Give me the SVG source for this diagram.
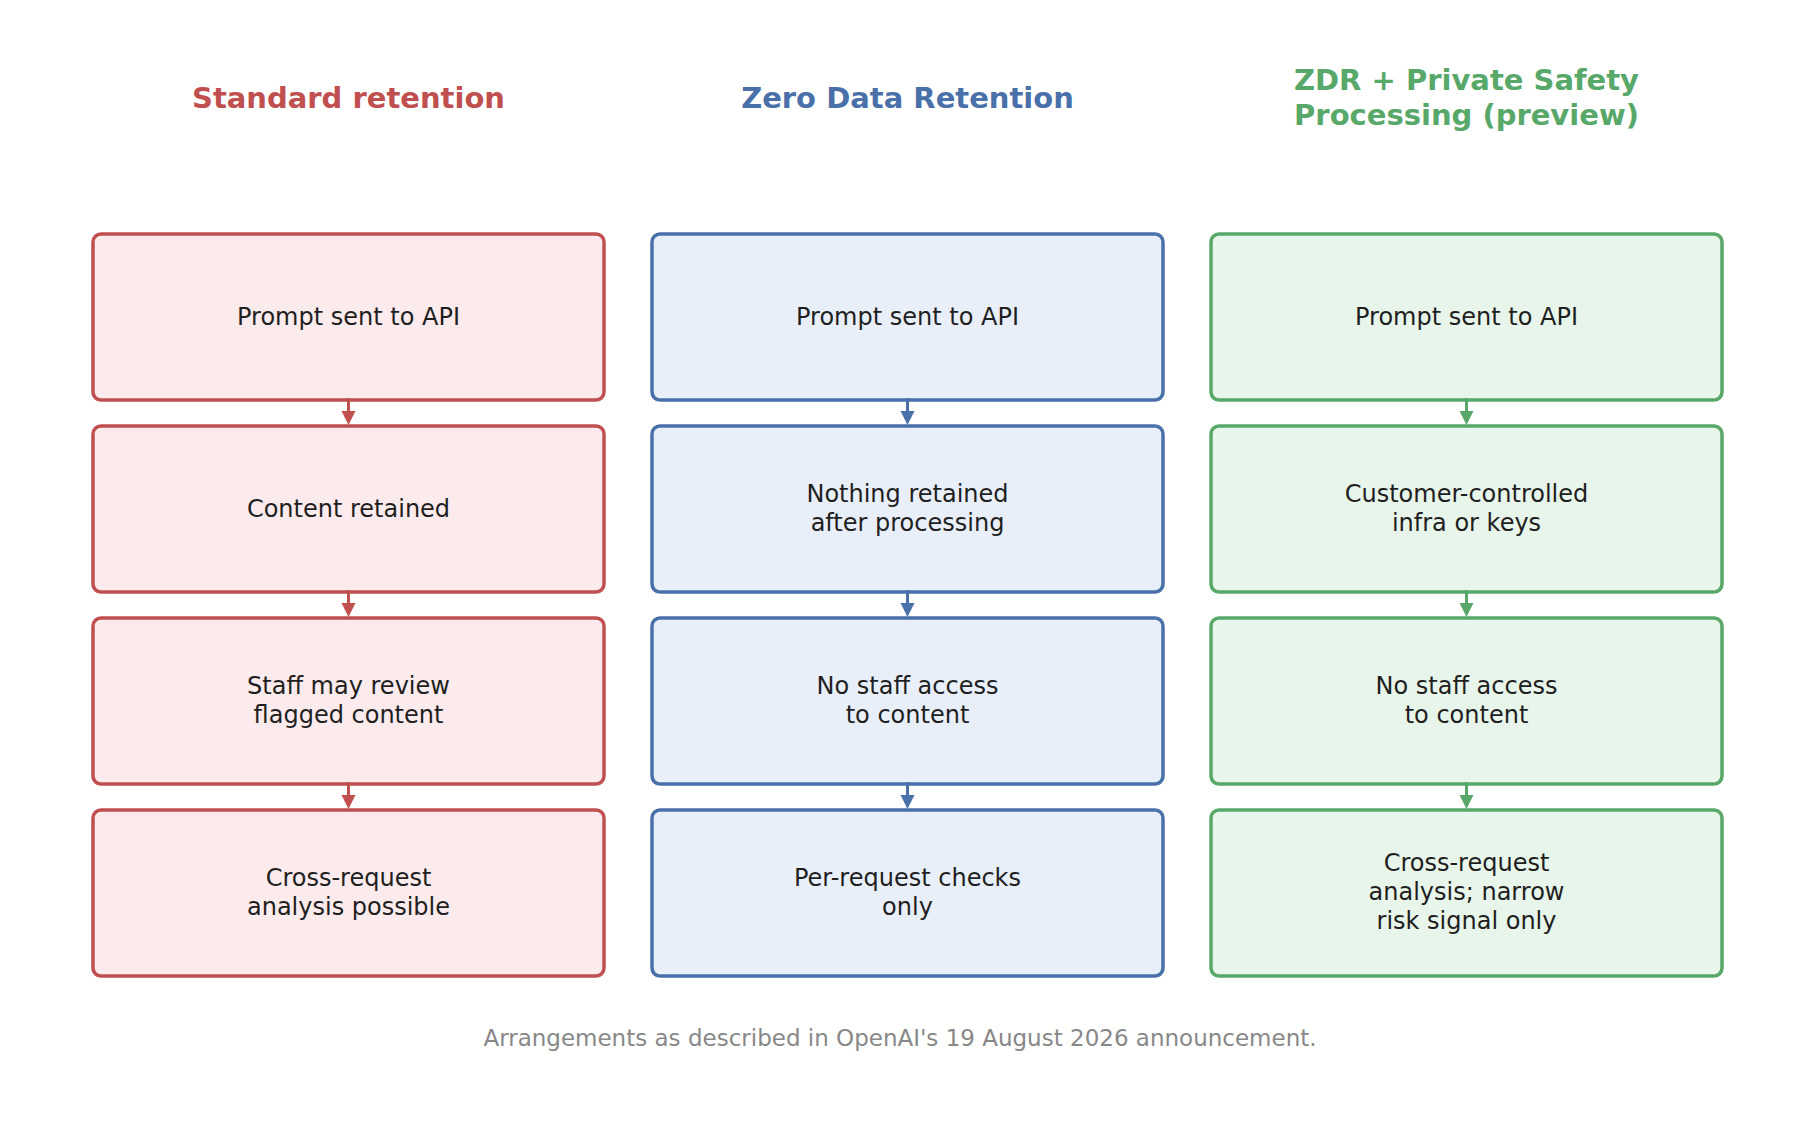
<svg xmlns="http://www.w3.org/2000/svg" width="1800" height="1140" viewBox="0 0 1800 1140">
<style>
text{font-family:"DejaVu Sans","Liberation Sans",sans-serif;text-anchor:middle}
.t{font-size:29px;font-weight:bold}
.b{font-size:24px;fill:#1f1f1f}
.f{font-size:23px;fill:#888888}
.box{stroke-width:3.5}
.red rect{fill:#fbebec;stroke:#c0504f}
.blue rect{fill:#e9eff8;stroke:#4a70aa}
.green rect{fill:#e8f5ea;stroke:#57a869}
.cr{stroke:#c0504f;fill:#c0504f}
.cb{stroke:#4a70aa;fill:#4a70aa}
.cg{stroke:#57a869;fill:#57a869}
line{stroke-width:3}
path{stroke:none}
</style>
<rect width="1800" height="1140" fill="#ffffff"/>
<text class="t" x="348.5" y="108" fill="#c0504f">Standard retention</text>
<text class="t" x="907.5" y="108" fill="#4a70aa">Zero Data Retention</text>
<text class="t" x="1466.5" y="90" fill="#57a869">ZDR + Private Safety</text>
<text class="t" x="1466.5" y="125" fill="#57a869">Processing (preview)</text>

<g id="r1" class="red"><rect class="box" x="93" y="234" width="511" height="166" rx="8"/><text class="b" x="348.5" y="325">Prompt sent to API</text></g>
<g id="r2" class="red"><rect class="box" x="93" y="426" width="511" height="166" rx="8"/><text class="b" x="348.5" y="517">Content retained</text></g>
<g id="r3" class="red"><rect class="box" x="93" y="618" width="511" height="166" rx="8"/><text class="b" x="348.5" y="694">Staff may review</text><text class="b" x="348.5" y="723">flagged content</text></g>
<g id="r4" class="red"><rect class="box" x="93" y="810" width="511" height="166" rx="8"/><text class="b" x="348.5" y="886">Cross-request</text><text class="b" x="348.5" y="915">analysis possible</text></g>

<g id="b1" class="blue"><rect class="box" x="652" y="234" width="511" height="166" rx="8"/><text class="b" x="907.5" y="325">Prompt sent to API</text></g>
<g id="b2" class="blue"><rect class="box" x="652" y="426" width="511" height="166" rx="8"/><text class="b" x="907.5" y="502">Nothing retained</text><text class="b" x="907.5" y="531">after processing</text></g>
<g id="b3" class="blue"><rect class="box" x="652" y="618" width="511" height="166" rx="8"/><text class="b" x="907.5" y="694">No staff access</text><text class="b" x="907.5" y="723">to content</text></g>
<g id="b4" class="blue"><rect class="box" x="652" y="810" width="511" height="166" rx="8"/><text class="b" x="907.5" y="886">Per-request checks</text><text class="b" x="907.5" y="915">only</text></g>

<g id="g1" class="green"><rect class="box" x="1211" y="234" width="511" height="166" rx="8"/><text class="b" x="1466.5" y="325">Prompt sent to API</text></g>
<g id="g2" class="green"><rect class="box" x="1211" y="426" width="511" height="166" rx="8"/><text class="b" x="1466.5" y="502">Customer-controlled</text><text class="b" x="1466.5" y="531">infra or keys</text></g>
<g id="g3" class="green"><rect class="box" x="1211" y="618" width="511" height="166" rx="8"/><text class="b" x="1466.5" y="694">No staff access</text><text class="b" x="1466.5" y="723">to content</text></g>
<g id="g4" class="green"><rect class="box" x="1211" y="810" width="511" height="166" rx="8"/><text class="b" x="1466.5" y="871">Cross-request</text><text class="b" x="1466.5" y="900">analysis; narrow</text><text class="b" x="1466.5" y="929">risk signal only</text></g>

<g id="connectors">
<g class="cr">
<line x1="348.5" y1="398" x2="348.5" y2="414"/><path d="M341.5 411 L355.5 411 L348.5 425 Z"/>
<line x1="348.5" y1="590" x2="348.5" y2="606"/><path d="M341.5 603 L355.5 603 L348.5 617 Z"/>
<line x1="348.5" y1="782" x2="348.5" y2="798"/><path d="M341.5 795 L355.5 795 L348.5 809 Z"/>
</g>
<g class="cb">
<line x1="907.5" y1="398" x2="907.5" y2="414"/><path d="M900.5 411 L914.5 411 L907.5 425 Z"/>
<line x1="907.5" y1="590" x2="907.5" y2="606"/><path d="M900.5 603 L914.5 603 L907.5 617 Z"/>
<line x1="907.5" y1="782" x2="907.5" y2="798"/><path d="M900.5 795 L914.5 795 L907.5 809 Z"/>
</g>
<g class="cg">
<line x1="1466.5" y1="398" x2="1466.5" y2="414"/><path d="M1459.5 411 L1473.5 411 L1466.5 425 Z"/>
<line x1="1466.5" y1="590" x2="1466.5" y2="606"/><path d="M1459.5 603 L1473.5 603 L1466.5 617 Z"/>
<line x1="1466.5" y1="782" x2="1466.5" y2="798"/><path d="M1459.5 795 L1473.5 795 L1466.5 809 Z"/>
</g>
</g>

<text class="f" x="900" y="1046">Arrangements as described in OpenAI's 19 August 2026 announcement.</text>
</svg>
